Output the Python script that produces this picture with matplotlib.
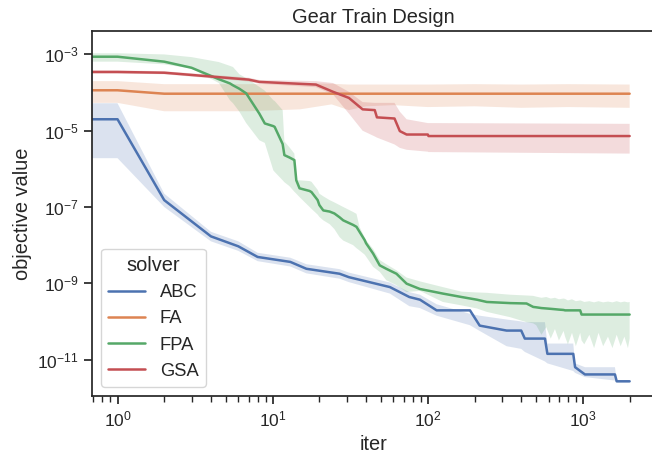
import numpy as np
import matplotlib
matplotlib.use("Agg")
import matplotlib.pyplot as plt
import seaborn as sns

sns.set_theme(style="ticks", font_scale=1.2)
plt.rcParams['font.family'] = ['Liberation Sans', 'DejaVu Sans']
plt.rcParams['xtick.labelsize'] = 12.5
plt.rcParams['ytick.labelsize'] = 12.5

solvers = ["ABC", "FA", "FPA", "GSA"]

# values, kept as log10(objective value)
abc_iter = [0, 1, 2, 4, 6, 8, 13, 16.5, 27, 31, 57, 76, 89, 114, 187, 216, 322, 400, 422,
            569, 590, 866, 890, 1030, 1608, 1650, 2000]
abc_mean = [-4.70, -4.70, -6.82, -7.77, -8.03, -8.31, -8.44, -8.62, -8.75, -8.84, -9.10, -9.36, -9.43,
            -9.71, -9.71, -10.11, -10.24, -10.24, -10.45, -10.45, -10.85, -10.85, -11.20, -11.39,
            -11.39, -11.57, -11.57]
abc_lo = [-5.72, -5.72, -7.00, -7.90, -8.15, -8.42, -8.56, -8.74, -8.88, -8.97, -9.27, -9.60, -9.65,
          -9.85, -10.10, -10.25, -10.65, -10.72, -10.80, -11.05, -11.10, -11.30, -11.35, -11.46,
          -11.55, -11.60, -11.60]
abc_hi = [-4.28, -4.28, -6.65, -7.65, -7.90, -8.20, -8.33, -8.50, -8.63, -8.72, -8.98, -9.23, -9.30,
          -9.55, -9.80, -9.85, -9.95, -10.00, -10.02, -10.02, -10.58, -10.58, -11.10, -11.20,
          -11.20, -11.55, -11.55]

fa_iter = [0, 1, 2, 7, 15, 24, 31, 40, 60, 100, 200, 400, 800, 2000]
fa_mean = [-3.94, -3.94, -4.03, -4.03, -4.03, -4.03, -4.03, -4.03, -4.03, -4.03, -4.03, -4.03,
           -4.03, -4.03]
fa_lo = [-4.27, -4.27, -4.49, -4.49, -4.44, -4.31, -4.46, -4.36, -4.33, -4.38, -4.36, -4.40,
         -4.38, -4.40]
fa_hi = [-3.70, -3.70, -3.78, -3.78, -3.75, -3.77, -3.79, -3.79, -3.79, -3.79, -3.78, -3.79,
         -3.78, -3.79]

fpa_iter = [0, 1, 2, 3, 4.5, 5.3, 5.55, 6.1, 6.75, 8.2, 8.9, 10.1, 10.3, 11.6, 11.9, 12.8, 13.8,
            14.2, 14.9, 17.3, 17.8, 19.5, 20, 21.2, 23.3, 25, 27, 28.5, 33, 34.7, 36.3, 39.2, 40,
            44.4, 49, 54, 62.8, 73, 89, 125, 165, 207, 240, 340, 433, 478, 500, 540, 580, 620, 660,
            700, 750, 767, 800, 850, 900, 960, 980, 1020, 1100, 1180, 1260, 1350, 1450, 1550, 1650,
            1750, 1850, 1950, 2000]
fpa_mean = [-3.06, -3.06, -3.19, -3.35, -3.65, -3.76, -3.81, -3.90, -4.02, -4.55, -4.81, -4.88,
            -4.90, -5.35, -5.64, -5.70, -5.77, -6.30, -6.51, -6.58, -6.61, -6.82, -6.95, -7.09,
            -7.12, -7.17, -7.27, -7.35, -7.47, -7.52, -7.65, -7.87, -7.95, -8.22, -8.53, -8.62,
            -8.75, -9.01, -9.15, -9.27, -9.36, -9.43, -9.49, -9.52, -9.53, -9.62, -9.63, -9.65,
            -9.66, -9.67, -9.68, -9.69, -9.70, -9.71, -9.71, -9.71, -9.71, -9.71, -9.82, -9.82,
            -9.82, -9.82, -9.82, -9.82, -9.82, -9.82, -9.82, -9.82, -9.82, -9.82, -9.82]
fpa_lo = [-3.19, -3.19, -3.26, -3.37, -3.75, -4.20, -4.28, -4.50, -4.80, -5.25, -5.32, -6.04,
          -6.08, -6.30, -6.35, -6.45, -6.60, -6.65, -6.74, -7.00, -7.05, -7.20, -7.26, -7.35,
          -7.45, -7.58, -7.79, -7.88, -8.00, -8.08, -8.14, -8.25, -8.30, -8.57, -8.70, -8.92,
          -9.05, -9.23, -9.20, -9.49, -9.58, -9.66, -9.75, -9.89, -10.02, -10.05, -10.10,
          -10.35, -10.15, -10.45, -10.20, -10.50, -10.25, -10.40, -10.60, -10.30, -10.65,
          -10.30, -10.50, -10.60, -10.35, -10.70, -10.30, -10.65, -10.40, -10.70, -10.35,
          -10.65, -10.40, -10.70, -10.45]
fpa_hi = [-2.97, -2.97, -3.00, -3.07, -3.20, -3.30, -3.33, -3.52, -3.62, -3.85, -3.95, -4.20,
          -4.22, -4.46, -5.28, -5.43, -5.60, -6.30, -6.30, -6.32, -6.34, -6.55, -6.65, -6.72,
          -6.82, -6.88, -6.95, -7.00, -7.13, -7.18, -7.52, -7.80, -7.87, -8.10, -8.39, -8.50,
          -8.66, -8.85, -8.95, -9.10, -9.22, -9.24, -9.25, -9.30, -9.32, -9.33, -9.35, -9.38,
          -9.36, -9.40, -9.38, -9.42, -9.40, -9.41, -9.45, -9.42, -9.47, -9.45, -9.46, -9.49,
          -9.47, -9.50, -9.47, -9.50, -9.48, -9.50, -9.47, -9.50, -9.48, -9.50, -9.49]

gsa_iter = [0, 1, 2, 7, 8.2, 19, 24.5, 31, 38, 45.5, 47, 61, 66, 73, 100, 101, 2000]
gsa_mean = [-3.46, -3.46, -3.48, -3.66, -3.72, -3.79, -3.98, -4.14, -4.44, -4.46, -4.65, -4.68,
            -5.01, -5.10, -5.10, -5.14, -5.14]
gsa_lo = [-3.50, -3.50, -3.52, -3.71, -3.77, -3.86, -4.05, -4.55, -5.00, -5.15, -5.18, -5.36,
          -5.45, -5.50, -5.55, -5.56, -5.60]
gsa_hi = [-3.42, -3.42, -3.44, -3.61, -3.67, -3.70, -3.75, -3.98, -4.25, -4.27, -4.27, -4.27,
          -4.50, -4.70, -4.80, -4.80, -4.82]

data = {
    "ABC": (abc_iter, abc_mean, abc_lo, abc_hi),
    "FA": (fa_iter, fa_mean, fa_lo, fa_hi),
    "FPA": (fpa_iter, fpa_mean, fpa_lo, fpa_hi),
    "GSA": (gsa_iter, gsa_mean, gsa_lo, gsa_hi),
}
colors = sns.color_palette("deep")[:4]

fig = plt.figure(figsize=(6.52, 4.65), dpi=100)
ax = fig.add_axes([0.141, 0.148, 0.864, 0.785])

for name, color in zip(solvers, colors):
    it, mean, lo, hi = data[name]
    it = np.array(it, dtype=float)
    ax.fill_between(it, 10.0 ** np.array(lo), 10.0 ** np.array(hi), color=color, alpha=0.2, linewidth=0)
    ax.plot(it, 10.0 ** np.array(mean), color=color, lw=1.8, label=name)

ax.set_xscale("log")
ax.set_yscale("log")
ax.set_xlim(0.684, 2925)
ax.set_ylim(10 ** -11.96, 10 ** -2.39)
ax.set_yticks([1e-3, 1e-5, 1e-7, 1e-9, 1e-11])
ax.yaxis.set_minor_locator(matplotlib.ticker.NullLocator())

ax.set_title("Gear Train Design")
ax.set_xlabel("iter")
ax.set_ylabel("objective value")
ax.legend(title="solver", loc="lower left")

fig.savefig("out.png", dpi=100)
